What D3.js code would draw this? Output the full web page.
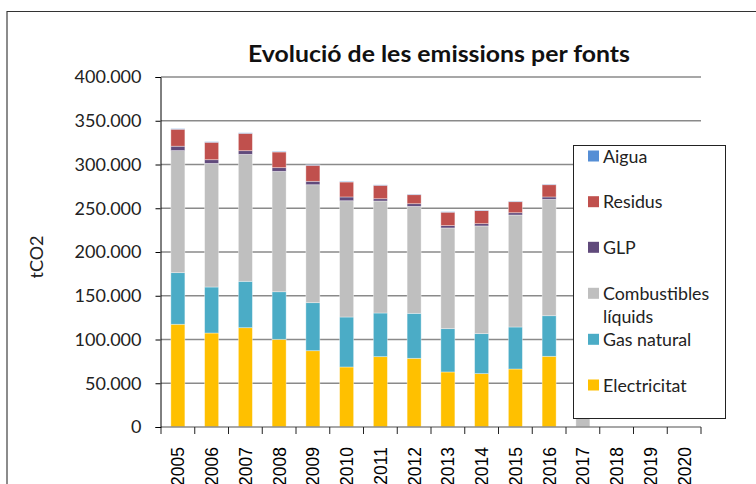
<!DOCTYPE html>
<html>
<head>
<meta charset="utf-8">
<script src="https://cdn.jsdelivr.net/npm/d3@7"></script>
<style>
  body { margin: 0; background: #fff; }
  svg { display: block; }
</style>
</head>
<body>
<script>
const width = 756;
const height = 484;

// data (tCO2)
const years = ['2005','2006','2007','2008','2009','2010','2011','2012','2013','2014','2015','2016','2017','2018','2019','2020'];
const electricitat = [117400,107400,113500,100200,87200,68600,80400,78500,62900,61000,66300,80800,0,0,0,0];
const gasNatural = [59000,52600,53000,54400,54900,57100,49900,51400,49500,45700,48000,46400,0,0,0,0];
const combustibles = [139500,141300,145100,137600,134800,132900,128000,122300,115100,123100,128000,133000,150000,0,0,0];
const glp = [5000,4200,4200,4200,3900,4300,2600,3000,2700,2600,2600,2700,0,0,0,0];
const residus = [19400,19900,19800,17900,18300,17100,15300,10300,15300,14900,12600,14000,0,0,0,0];
const aigua = [600,600,600,600,600,600,500,500,500,500,500,500,0,0,0,0];

const seriesNames = ['Electricitat','Gas natural','Combustibles líquids','GLP','Residus','Aigua'];
const seriesColors = ['#FFC000','#4BACC6','#BFBFBF','#604A7B','#C0504D','#558ED5'];
const yTicks = [0,50000,100000,150000,200000,250000,300000,350000,400000];

const table = years.map((y, i) => ({
    year: y,
    'Electricitat': electricitat[i],
    'Gas natural': gasNatural[i],
    'Combustibles líquids': combustibles[i],
    'GLP': glp[i],
    'Residus': residus[i],
    'Aigua': aigua[i]
}));

let svg = d3.select('body').append('svg')
            .attr('width', width)
            .attr('height', height);

// outer frame
svg.append('line').attr('x1', 7).attr('x2', 7).attr('y1', 11).attr('y2', height)
    .attr('stroke', '#8c8c8c').attr('stroke-width', 2);
svg.append('line').attr('x1', 7).attr('x2', width).attr('y1', 11.5).attr('y2', 11.5)
    .attr('stroke', '#333').attr('stroke-width', 1.2);

const x = d3.scaleBand()
            .domain(years)
            .range([161, 701])
            .paddingInner(0.585)
            .paddingOuter(0.2925);

const y = d3.scaleLinear()
            .domain([0, 400000])
            .range([427, 77]);

const color = d3.scaleOrdinal().domain(seriesNames).range(seriesColors);

// gridlines
svg.append('g')
    .selectAll('line')
    .data(yTicks.slice(1))
    .enter()
    .append('line')
    .attr('x1', 161).attr('x2', 701)
    .attr('y1', d => y(d)).attr('y2', d => y(d))
    .attr('stroke', '#8a8a8a').attr('stroke-width', 1.4);

// stacked bars
const stacked = d3.stack().keys(seriesNames)(table);

svg.append('g')
    .selectAll('g')
    .data(stacked)
    .enter()
    .append('g')
    .attr('fill', d => color(d.key))
    .selectAll('rect')
    .data(d => d)
    .enter()
    .append('rect')
    .attr('x', d => x(d.data.year))
    .attr('width', x.bandwidth())
    .attr('y', d => y(d[1]))
    .attr('height', d => y(d[0]) - y(d[1]))
    .attr('stroke', 'rgba(255,255,255,0.45)')
    .attr('stroke-width', 0.8);

// x axis
const xAxis = svg.append('g').attr('transform', 'translate(0,427)');
xAxis.append('line').attr('x1', 161).attr('x2', 701).attr('y1', 0).attr('y2', 0)
    .attr('stroke', '#8a8a8a').attr('stroke-width', 1.6);
xAxis.selectAll('line.tick')
    .data(d3.range(years.length + 1))
    .enter()
    .append('line')
    .attr('class', 'tick')
    .attr('x1', i => 161 + i * x.step()).attr('x2', i => 161 + i * x.step())
    .attr('y1', 0).attr('y2', 7)
    .attr('stroke', '#222').attr('stroke-width', 1);
xAxis.selectAll('text')
    .data(years)
    .enter()
    .append('text')
    .attr('transform', d => `translate(${x(d) + x.bandwidth() / 2 + 6.5},20) rotate(-90)`)
    .attr('text-anchor', 'end')
    .attr('font-family', 'Liberation Sans, Arial, sans-serif')
    .attr('font-size', 17.5)
    .attr('fill', '#000')
    .text(d => d);

// y axis
const yAxis = d3.axisLeft(y)
                .tickValues(yTicks)
                .tickSize(5)
                .tickPadding(14)
                .tickFormat(d => d === 0 ? '0' : d3.format(',')(d).replace(/,/g, '.'));

svg.append('g')
    .attr('transform', 'translate(160.5,0)')
    .call(yAxis)
    .call(g => g.select('.domain').attr('stroke', '#000'))
    .call(g => g.selectAll('.tick line').attr('stroke', '#000'))
    .call(g => g.selectAll('.tick text')
        .attr('font-family', 'Lato, sans-serif')
        .attr('font-size', 18)
        .attr('fill', '#222'));

svg.append('text')
    .attr('transform', 'translate(43,257) rotate(-90)')
    .attr('text-anchor', 'middle')
    .attr('font-family', 'Lato, sans-serif')
    .attr('font-size', 18)
    .attr('fill', '#222')
    .text('tCO2');

// title
svg.append('text')
    .attr('x', 439)
    .attr('y', 62)
    .attr('text-anchor', 'middle')
    .attr('font-family', 'Lato, sans-serif')
    .attr('font-weight', 'bold')
    .attr('font-size', 23)
    .attr('textLength', 382)
    .attr('lengthAdjust', 'spacingAndGlyphs')
    .attr('fill', '#111')
    .text('Evolució de les emissions per fonts');

// legend
const legend = svg.append('g');
legend.append('rect')
    .attr('x', 573.5).attr('y', 145.5)
    .attr('width', 152).attr('height', 273)
    .attr('fill', '#fff').attr('stroke', '#222').attr('stroke-width', 1);

const legendItems = seriesNames.slice().reverse();
const legendY = [156, 201.7, 247.3, 293.3, 339.3, 385];

legend.selectAll('rect.item')
    .data(legendItems)
    .enter()
    .append('rect')
    .attr('class', 'item')
    .attr('x', 588)
    .attr('y', (d, i) => legendY[i] - 5.5)
    .attr('width', 11).attr('height', 11)
    .attr('fill', d => color(d));

legend.selectAll('text')
    .data(legendItems)
    .enter()
    .append('text')
    .attr('x', 603)
    .attr('y', (d, i) => legendY[i] + 6.5)
    .attr('font-family', 'Lato, sans-serif')
    .attr('font-size', 17.8)
    .attr('fill', '#222')
    .each(function(d) {
        const words = d === 'Combustibles líquids' ? ['Combustibles', 'líquids'] : [d];
        d3.select(this).selectAll('tspan')
            .data(words)
            .enter()
            .append('tspan')
            .attr('x', 603)
            .attr('dy', (w, j) => j === 0 ? 0 : 23.4)
            .text(w => w);
    });
</script>
</body>
</html>
